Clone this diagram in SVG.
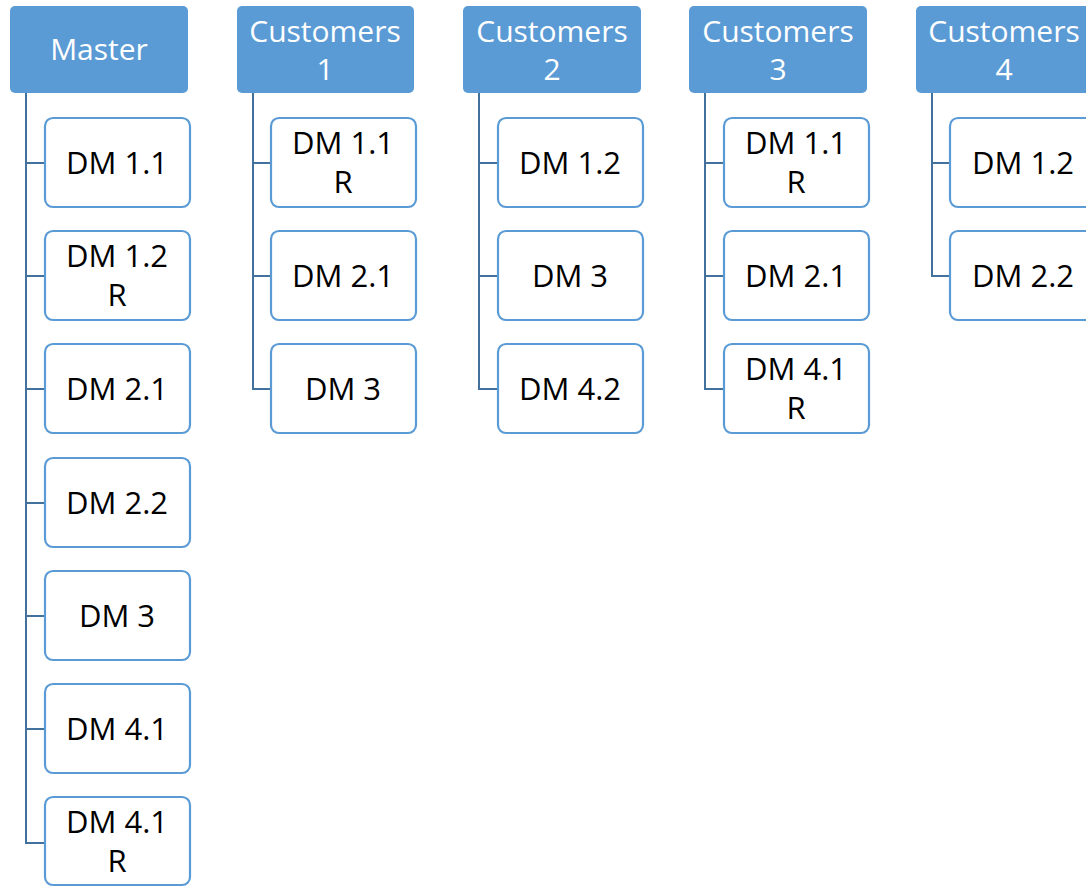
<svg xmlns="http://www.w3.org/2000/svg" width="1086" height="887" viewBox="0 0 1086 887">
<style>
.hd{fill:#5B9BD5;}
.bx{fill:#ffffff;stroke:#5B9BD5;stroke-width:2.2;}
.ht{fill:#ffffff;font-family:"Open Sans","Liberation Sans",sans-serif;font-size:30px;text-anchor:middle;}
.bt{fill:#000000;font-family:"Open Sans","Liberation Sans",sans-serif;font-size:31px;text-anchor:middle;}
.cn{fill:none;stroke:#41719C;stroke-width:2;}
</style>
<rect width="1086" height="887" fill="#ffffff"/>
<g id="connectors">
<path class="cn" d="M26,93 V843 H45 M26,163 H45 M26,276 H45 M26,389 H45 M26,503 H45 M26,616 H45 M26,729 H45"/>
<path class="cn" d="M253,93 V389 H271 M253,163 H271 M253,276 H271"/>
<path class="cn" d="M479,93 V389 H498 M479,163 H498 M479,276 H498"/>
<path class="cn" d="M705,93 V389 H724 M705,163 H724 M705,276 H724"/>
<path class="cn" d="M932,93 V276 H950 M932,163 H950"/>
</g>
<g id="master">
<rect class="hd" x="10" y="6" width="178" height="87" rx="5"/>
<text class="ht" x="99" y="60">Master</text>
</g>
<g id="m1"><rect class="bx" x="45" y="118" width="145" height="89" rx="8"/><text class="bt" x="117" y="174">DM 1.1</text></g>
<g id="m2"><rect class="bx" x="45" y="231" width="145" height="89" rx="8"/><text class="bt" x="117" y="267">DM 1.2</text><text class="bt" x="117" y="306">R</text></g>
<g id="m3"><rect class="bx" x="45" y="344" width="145" height="89" rx="8"/><text class="bt" x="117" y="400">DM 2.1</text></g>
<g id="m4"><rect class="bx" x="45" y="458" width="145" height="89" rx="8"/><text class="bt" x="117" y="514">DM 2.2</text></g>
<g id="m5"><rect class="bx" x="45" y="571" width="145" height="89" rx="8"/><text class="bt" x="117" y="627">DM 3</text></g>
<g id="m6"><rect class="bx" x="45" y="684" width="145" height="89" rx="8"/><text class="bt" x="117" y="740">DM 4.1</text></g>
<g id="m7"><rect class="bx" x="45" y="797" width="145" height="88" rx="8"/><text class="bt" x="117" y="833">DM 4.1</text><text class="bt" x="117" y="872">R</text></g>

<g id="customers1">
<rect class="hd" x="237" y="6" width="177" height="87" rx="5"/>
<text class="ht" x="325" y="42">Customers</text><text class="ht" x="325" y="80">1</text>
</g>
<g id="c1a"><rect class="bx" x="271" y="118" width="145" height="89" rx="8"/><text class="bt" x="343" y="154">DM 1.1</text><text class="bt" x="343" y="193">R</text></g>
<g id="c1b"><rect class="bx" x="271" y="231" width="145" height="89" rx="8"/><text class="bt" x="343" y="287">DM 2.1</text></g>
<g id="c1c"><rect class="bx" x="271" y="344" width="145" height="89" rx="8"/><text class="bt" x="343" y="400">DM 3</text></g>

<g id="customers2">
<rect class="hd" x="463" y="6" width="178" height="87" rx="5"/>
<text class="ht" x="552" y="42">Customers</text><text class="ht" x="552" y="80">2</text>
</g>
<g id="c2a"><rect class="bx" x="498" y="118" width="145" height="89" rx="8"/><text class="bt" x="570" y="174">DM 1.2</text></g>
<g id="c2b"><rect class="bx" x="498" y="231" width="145" height="89" rx="8"/><text class="bt" x="570" y="287">DM 3</text></g>
<g id="c2c"><rect class="bx" x="498" y="344" width="145" height="89" rx="8"/><text class="bt" x="570" y="400">DM 4.2</text></g>

<g id="customers3">
<rect class="hd" x="689" y="6" width="178" height="87" rx="5"/>
<text class="ht" x="778" y="42">Customers</text><text class="ht" x="778" y="80">3</text>
</g>
<g id="c3a"><rect class="bx" x="724" y="118" width="145" height="89" rx="8"/><text class="bt" x="796" y="154">DM 1.1</text><text class="bt" x="796" y="193">R</text></g>
<g id="c3b"><rect class="bx" x="724" y="231" width="145" height="89" rx="8"/><text class="bt" x="796" y="287">DM 2.1</text></g>
<g id="c3c"><rect class="bx" x="724" y="344" width="145" height="89" rx="8"/><text class="bt" x="796" y="380">DM 4.1</text><text class="bt" x="796" y="419">R</text></g>

<g id="customers4">
<rect class="hd" x="916" y="6" width="178" height="87" rx="5"/>
<text class="ht" x="1004" y="42">Customers</text><text class="ht" x="1004" y="80">4</text>
</g>
<g id="c4a"><rect class="bx" x="950" y="118" width="145" height="89" rx="8"/><text class="bt" x="1023" y="174">DM 1.2</text></g>
<g id="c4b"><rect class="bx" x="950" y="231" width="145" height="89" rx="8"/><text class="bt" x="1023" y="287">DM 2.2</text></g>
</svg>
